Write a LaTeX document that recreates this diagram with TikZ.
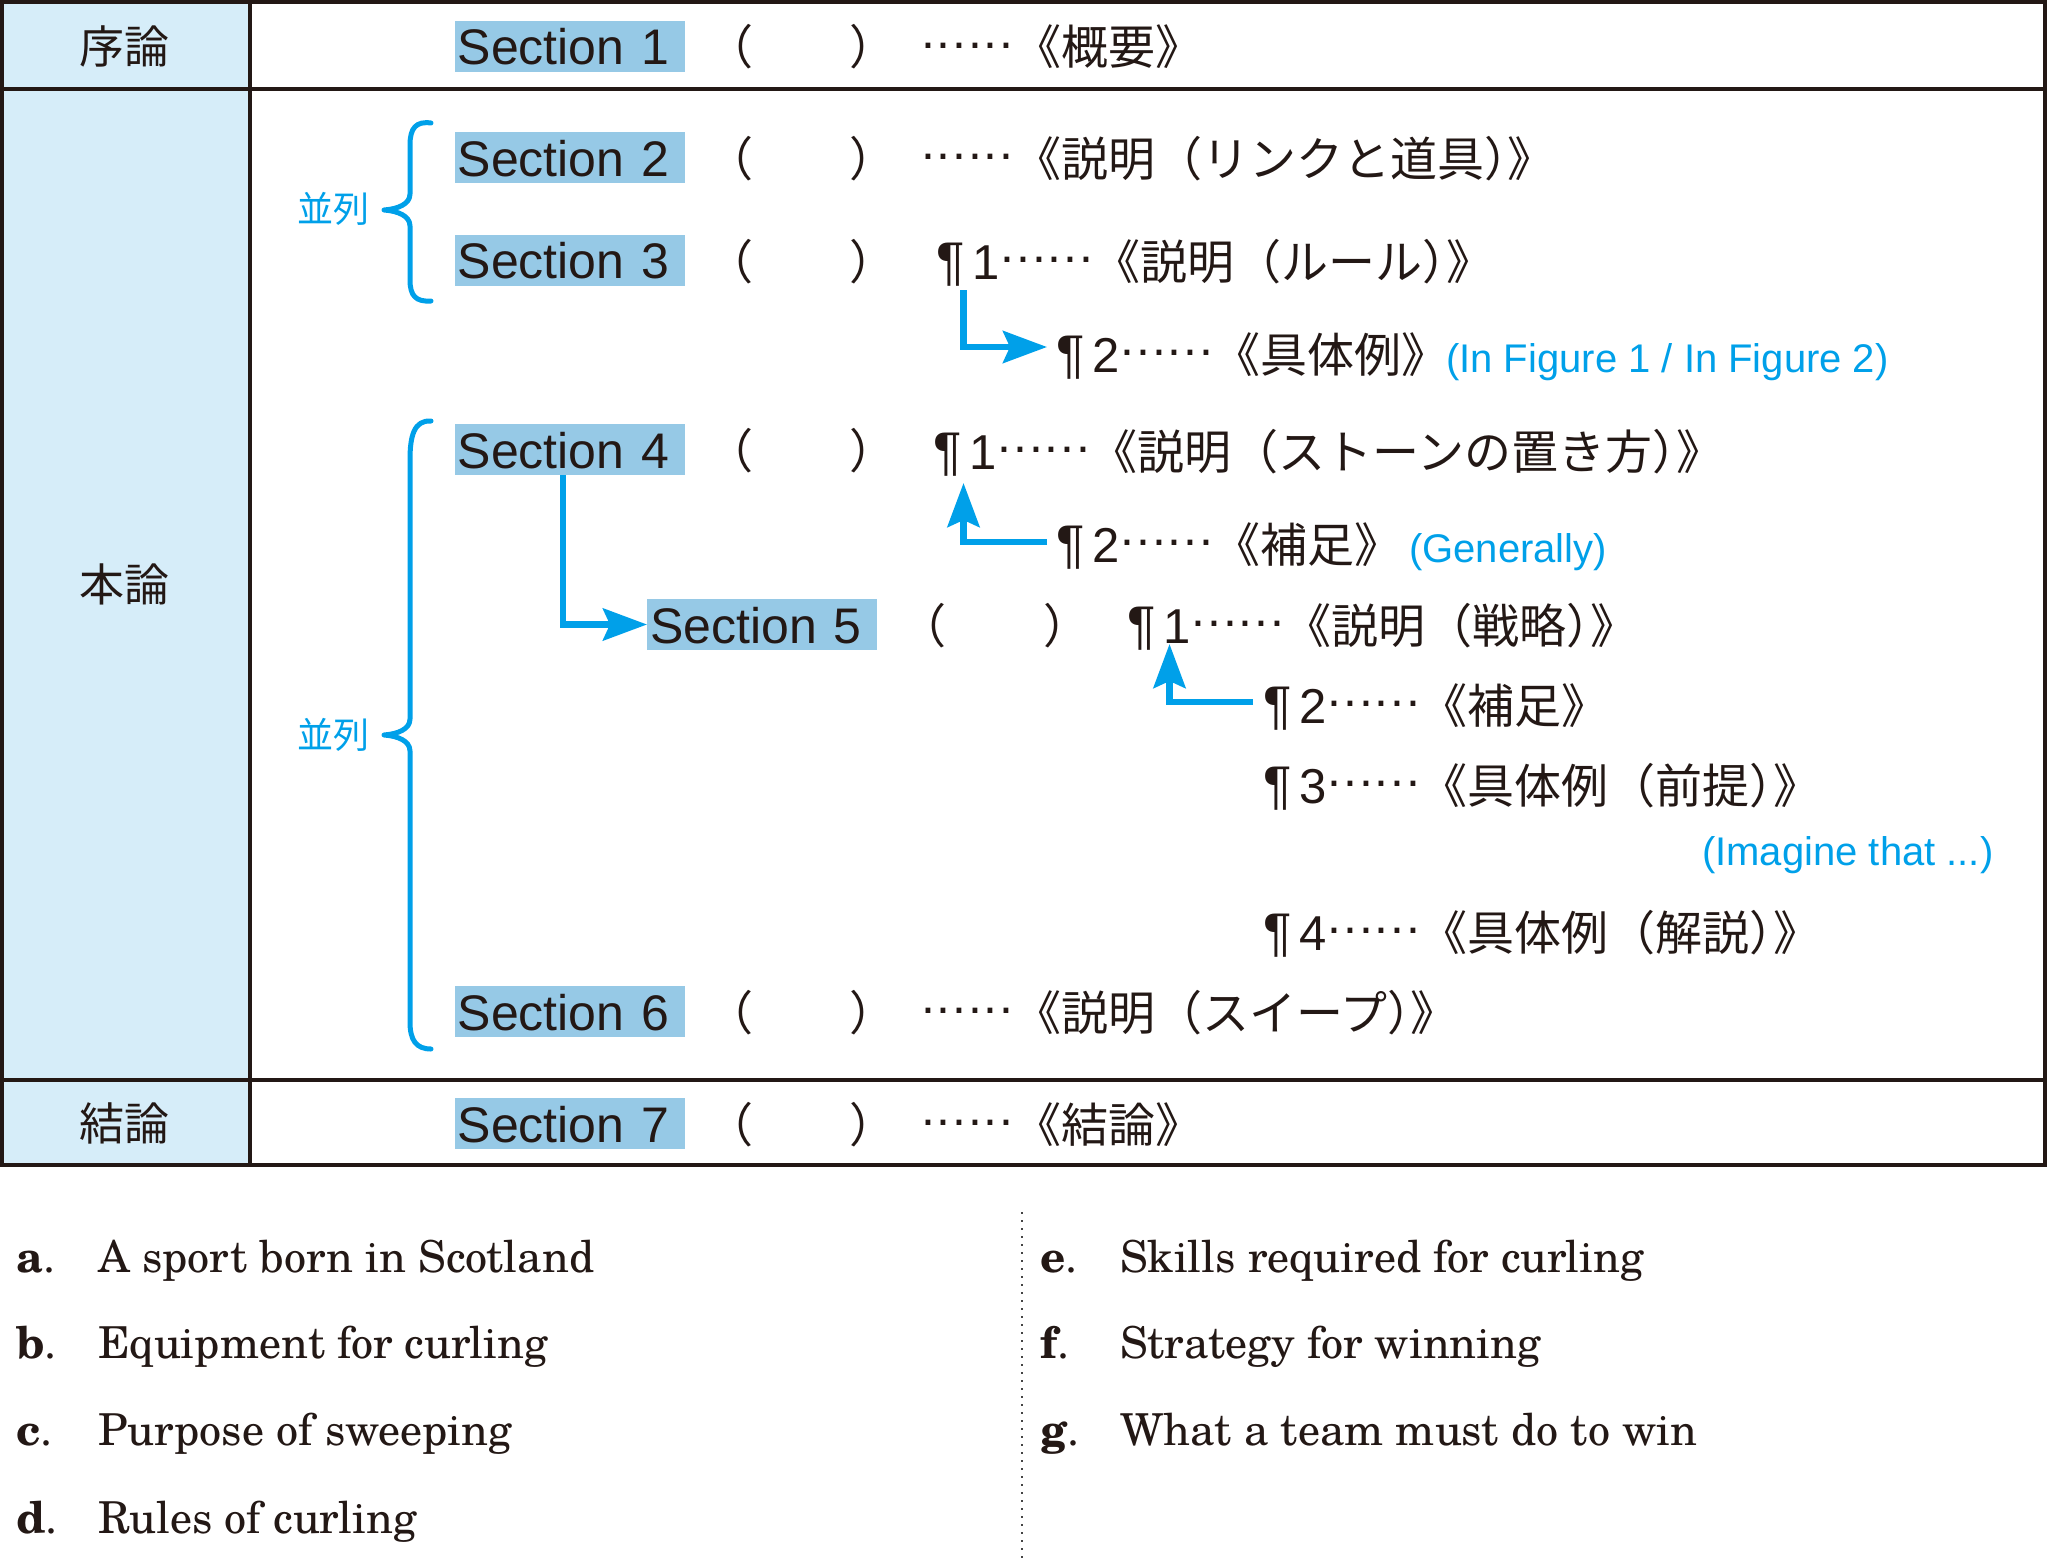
\documentclass[tikz,border=0pt]{standalone}
\usepackage{fontspec}
\usetikzlibrary{arrows.meta}
\newfontfamily\jp{Noto Sans CJK JP}
\newfontfamily\hv{Liberation Sans}
\newfontfamily\optfont[BoldFont=texgyreschola-bold.otf]{texgyreschola-regular.otf}
\definecolor{ink}{HTML}{231815}
\definecolor{cyanb}{HTML}{00A0E9}
\definecolor{secfill}{HTML}{96C9E6}
\definecolor{leftfill}{HTML}{D6EDF9}
\definecolor{dotgray}{HTML}{444444}
\newcommand{\jpf}{\jp\fontsize{47pt}{47pt}\selectfont}
\newcommand{\pilc}[1]{{\hv\fontsize{49pt}{49pt}\selectfont{\fontsize{53pt}{53pt}\selectfont\kern-1pt ¶}\kern8pt #1}}
\newcommand{\onedot}{\makebox[15.667pt][c]{\raisebox{16.9pt}{\hv\fontsize{50pt}{50pt}\selectfont .}}}
\newcommand{\mydots}{\onedot\onedot\onedot\onedot\onedot\onedot}
\tikzset{
  txt/.style={inner sep=0pt, anchor=base west, text=ink, font=\jpf},
  par/.style={inner sep=0pt, anchor=base, text=ink, font=\jpf},
  sec/.style={fill=secfill, anchor=west, text width=224pt, align=left,
    inner xsep=3pt, inner ysep=3pt, minimum height=51pt, text height=41pt,
    text depth=4pt, text=ink, font=\hv\fontsize{50pt}{50pt}\selectfont},
  ann/.style={inner sep=0pt, anchor=base west, text=cyanb,
    font=\hv\fontsize{40pt}{40pt}\selectfont},
  heiretsu/.style={inner sep=0pt, anchor=center, text=cyanb,
    font=\jp\fontsize{36pt}{36pt}\selectfont},
  lab/.style={inner sep=0pt, anchor=center, text=ink,
    font=\jp\fontsize{45pt}{45pt}\selectfont},
  opt/.style={inner sep=0pt, anchor=base west, text=ink,
    font=\optfont\fontsize{44pt}{44pt}\selectfont},
  tab/.style={draw=ink, line width=3.5pt},
  barrow/.style={draw=cyanb, line width=6.5pt,
    -{Stealth[length=44pt, width=32pt, inset=7pt]}},
  bracestyle/.style={draw=cyanb, line width=5pt, line cap=round, line join=round},
  dotline/.style={draw=dotgray, line width=2pt, dash pattern=on 2pt off 6pt}
}
\begin{document}
\begin{tikzpicture}[x=1pt,y=-1pt]
\useasboundingbox (0,0) rectangle (2048,1563);
% table
\fill[leftfill] (2,2) rectangle (250,1165);
\draw[tab] (2,89) -- (2045,89);
\draw[tab] (2,1080) -- (2045,1080);
\draw[tab] (250,2) -- (250,1165);
\draw[tab] (2,2) rectangle (2045,1165);
% left labels
\node[lab] (l1) at (124,46) {序論};
\node[lab] (l2) at (124,584.5) {本論};
\node[lab] (l3) at (124,1123) {結論};
% sections
\node[sec] (s1) at (454.5,46.2) {Section 1};
\node[sec] (s2) at (454.5,157.5) {Section 2};
\node[sec] (s3) at (454.5,260) {Section 3};
\node[sec] (s4) at (454.5,449.5) {Section 4};
\node[sec] (s5) at (647,624.5) {Section 5};
\node[sec] (s6) at (454.5,1011.5) {Section 6};
\node[sec] (s7) at (454.5,1123.5) {Section 7};
% parentheses
\node[par] (o1) at (729.5,65) {（};   \node[par] (c1) at (872.5,65) {）};
\node[par] (o2) at (729.5,176.5) {（}; \node[par] (c2) at (872.5,176.5) {）};
\node[par] (o3) at (729.5,279) {（};  \node[par] (c3) at (872.5,279) {）};
\node[par] (o4) at (729.5,468.5) {（}; \node[par] (c4) at (872.5,468.5) {）};
\node[par] (o5) at (922.5,643.5) {（}; \node[par] (c5) at (1066.5,643.5) {）};
\node[par] (o6) at (729.5,1030.5) {（}; \node[par] (c6) at (872.5,1030.5) {）};
\node[par] (o7) at (729.5,1142.5) {（}; \node[par] (c7) at (872.5,1142.5) {）};
% content lines
\node[txt] (t1) at (920,65) {\mydots《概要》};
\node[txt] (t2) at (920,176.5) {\mydots《説明（リンクと道具）\kern-.5em》};
\node[txt] (t31) at (937,279) {\pilc{1}\mydots《説明（ルール）\kern-.5em》};
\node[txt] (t32) at (1057,372) {\pilc{2}\mydots《具体例》};
\node[ann] (n1) at (1446,372) {(In Figure 1 / In Figure 2)};
\node[txt] (t41) at (934,469) {\pilc{1}\mydots《説明（ストーンの置き方）\kern-.5em》};
\node[txt] (t42) at (1057,562) {\pilc{2}\mydots《補足》};
\node[ann] (n2) at (1409,562) {(Generally)};
\node[txt] (t51) at (1128,643.5) {\pilc{1}\mydots《説明（戦略）\kern-.5em》};
\node[txt] (t52) at (1264,723) {\pilc{2}\mydots《補足》};
\node[txt] (t53) at (1264,803) {\pilc{3}\mydots《具体例（前提）\kern-.5em》};
\node[ann] (n3) at (1702,865) {(Imagine that ...)};
\node[txt] (t54) at (1264,950) {\pilc{4}\mydots《具体例（解説）\kern-.5em》};
\node[txt] (t6) at (920,1030.5) {\mydots《説明（スイープ）\kern-.5em》};
\node[txt] (t7) at (920,1142.5) {\mydots《結論》};
% heiretsu labels
\node[heiretsu] (h1) at (333,209) {並列};
\node[heiretsu] (h2) at (333,735) {並列};
% braces
\draw[bracestyle] (431,123) .. controls (416,121) and (410,128) .. (410,145)
  -- (410,194) .. controls (410,204) and (398,209) .. (384,210)
  .. controls (398,211) and (410,216) .. (410,226)
  -- (410,280) .. controls (410,296) and (416,302) .. (431,301);
\draw[bracestyle] (431,421) .. controls (414,420) and (410,436) .. (410,460)
  -- (410,719) .. controls (410,729) and (398,734) .. (384,735)
  .. controls (398,736) and (410,741) .. (410,751)
  -- (410,1022) .. controls (410,1040) and (416,1049) .. (431,1049);
% arrows
\coordinate (a1s) at (963.5,290);
\coordinate (a1e) at (1047,347);
\draw[barrow] (a1s) |- (a1e);
\coordinate (a2s) at (1047,542);
\coordinate (a2e) at (963.5,483);
\draw[barrow] (a2s) -| (a2e);
\draw[barrow] ([xshift=108.5pt]s4.south west) |- (s5.west);
\coordinate (a4s) at (1253,702);
\coordinate (a4e) at (1169.5,644);
\draw[barrow] (a4s) -| (a4e);
% dotted divider
\coordinate (d1) at (1022,1212);
\coordinate (d2) at (1022,1563);
\draw[dotline] (d1) -- (d2);
% options
\node[opt] (la) at (16,1272) {\textbf{a}.};
\node[opt] (xa) at (98,1272) {A sport born in Scotland};
\node[opt] (lb) at (16,1358) {\textbf{b}.};
\node[opt] (xb) at (98,1358) {Equipment for curling};
\node[opt] (lc) at (16,1445) {\textbf{c}.};
\node[opt] (xc) at (98,1445) {Purpose of sweeping};
\node[opt] (ld) at (16,1533) {\textbf{d}.};
\node[opt] (xd) at (98,1533) {Rules of curling};
\node[opt] (le) at (1040,1272) {\textbf{e}.};
\node[opt] (xe) at (1120,1272) {Skills required for curling};
\node[opt] (lf) at (1040,1358) {\textbf{f}.};
\node[opt] (xf) at (1120,1358) {Strategy for winning};
\node[opt] (lg) at (1040,1445) {\textbf{g}.};
\node[opt] (xg) at (1120,1445) {What a team must do to win};
\end{tikzpicture}
\end{document}
